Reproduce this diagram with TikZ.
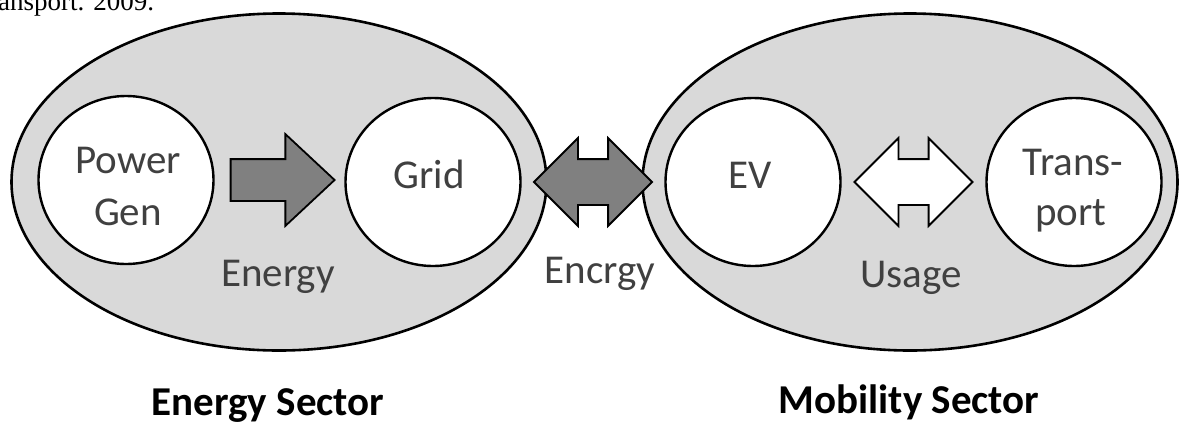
\documentclass[tikz,border=0pt]{standalone}
\usepackage{fontspec}
\setmainfont{Carlito}
\newfontfamily\capserif{Liberation Serif}
\usetikzlibrary{shapes.geometric,shapes.arrows,calc}
\definecolor{sectorgray}{HTML}{D9D9D9}
\definecolor{flowgray}{HTML}{808080}
\definecolor{labelgray}{HTML}{404040}

\begin{document}
\begin{tikzpicture}[
    x=1pt, y=-1pt,
    sectorbox/.style={ellipse, draw=black, line width=2.6pt, fill=sectorgray, minimum width=535pt, minimum height=337pt, inner sep=0pt},
    unitbox/.style={ellipse, draw=black, line width=2.4pt, fill=white, minimum width=175pt, minimum height=168pt, inner sep=0pt},
    wordlbl/.style={font=\fontsize{41}{50}\selectfont, text=labelgray, anchor=base, inner sep=0pt},
    titlelbl/.style={font=\fontsize{41}{50}\selectfont\bfseries, anchor=base, inner sep=0pt},
    flowarrow/.style={single arrow, draw=black, line width=1.8pt, fill=flowgray, inner xsep=0pt, inner ysep=20pt, single arrow head extend=25pt, single arrow tip angle=86, minimum height=104pt},
    twowayarrow/.style={double arrow, draw=black, line width=1.8pt, inner xsep=0pt, inner ysep=22pt, double arrow head extend=21pt, double arrow tip angle=90, minimum height=118pt},
]
\useasboundingbox (0,0) rectangle (1180,426);

% cut-off caption line above the figure
\node[font=\capserif\fontsize{27}{30}\selectfont, anchor=base west, inner sep=0pt] (cite) at (-2,10) {ansport. 2009.};

% sectors
\node[sectorbox] (energysec) at (279,182) {};
\node[sectorbox] (mobilitysec) at (910,182) {};

% units inside the sectors
\foreach \nm/\x/\y in {gen/126/180, grid/433/182, ev/753/182, trans/1074/182} {
    \node[unitbox] (\nm) at (\x,\y) {};
}

% block arrows between the units
\node[flowarrow, anchor=tail] (genflow) at ([xshift=15pt]gen.east) {};
\node[twowayarrow, fill=flowgray] (gridflow) at ($(grid.east)!.5!(ev.west)$) {};
\node[twowayarrow, fill=white] (evflow) at ($(ev.east)!.5!(trans.west)$) {};

% texts
\foreach \nm/\txt/\x/\y in {power/Power/128/173, gentxt/Gen/128/225, gridtxt/Grid/429/188, evtxt/EV/750/188,
    transtxt/Trans-/1073/175, porttxt/port/1071/225, energyleft/Energy/278/286, energymid/Encrgy/600/283, usage/Usage/911/287} {
    \node[wordlbl] (\nm) at (\x,\y) {\txt};
}
\node[titlelbl] (energytitle) at (268,415) {Energy Sector};
\node[titlelbl] (mobilitytitle) at (909,413) {Mobility Sector};
\end{tikzpicture}
\end{document}
